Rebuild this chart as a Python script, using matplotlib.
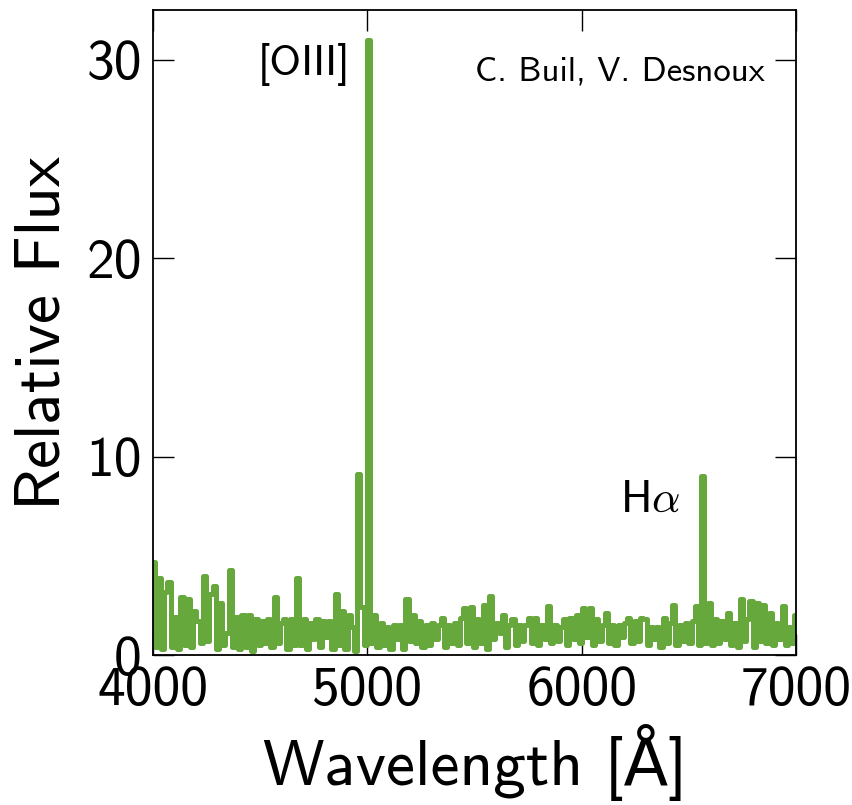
import numpy as np
import matplotlib.pyplot as plt

# -------------------------------
# Spectrum (15 A sampling)
# -------------------------------
wave_start = 4000
wave_step = 15
flux = [
    4.7, 0.4, 3.9, 0.3, 3.2, 3.7, 0.4, 1.9, 0.3, 2.9,
    0.5, 2.8, 0.4, 2.2, 1.7, 0.6, 4.0, 0.7, 3.1, 3.5,
    0.3, 2.6, 0.5, 1.1, 4.3, 0.4, 1.9, 0.3, 2.0, 0.4,
    2.0, 0.2, 1.8, 0.5, 1.7, 0.6, 1.8, 0.4, 2.9, 0.6,
    1.6, 1.8, 0.3, 1.8, 0.5, 3.9, 0.5, 1.8, 0.3, 1.6,
    0.8, 1.8, 0.4, 1.7, 0.9, 1.7, 0.3, 3.1, 0.5, 2.2,
    0.3, 2.0, 1.4, 0.2, 9.1, 2.4, 0.5, 31.0, 0.6, 2.0,
    0.4, 1.6, 0.5, 1.4, 0.3, 1.5, 0.8, 1.5, 0.3, 2.8,
    0.7, 2.0, 0.6, 1.7, 0.4, 1.5, 0.5, 1.6, 0.8, 1.5,
    1.85, 0.4, 1.5, 0.6, 1.6, 0.5, 1.85, 2.35, 0.6, 2.4,
    0.4, 1.8, 0.6, 2.5, 0.3, 2.95, 0.8, 1.6, 1.1, 2.0,
    0.4, 1.5, 1.8, 0.5, 1.5, 0.7, 1.5, 1.85, 0.6, 1.85,
    0.5, 1.5, 0.8, 2.45, 0.6, 1.5, 0.7, 1.4, 1.8, 0.5,
    1.85, 0.8, 2.0, 0.6, 2.35, 0.9, 2.35, 0.5, 1.8, 0.7,
    1.5, 2.1, 0.6, 1.5, 0.5, 1.5, 0.9, 1.6, 1.85, 0.6,
    1.7, 0.7, 1.85, 1.8, 0.5, 1.4, 0.8, 1.4, 0.4, 1.85,
    0.6, 1.6, 2.5, 0.5, 1.5, 0.7, 1.6, 0.6, 1.7, 2.45,
    0.5, 9.0, 0.6, 2.6, 0.5, 1.8, 0.6, 1.7, 0.8, 2.1,
    0.5, 1.6, 0.4, 2.8, 0.7, 1.8, 2.7, 0.4, 2.6, 0.7,
    2.5, 0.6, 2.1, 0.5, 1.6, 0.8, 2.45, 0.5, 1.4, 0.6,
    2.0,
]
wave = wave_start + wave_step * np.arange(len(flux))

x_ticks = [4000, 5000, 6000, 7000]
y_ticks = [0, 10, 20, 30]

# -------------------------------
# Style
# -------------------------------
plt.rcParams['font.family'] = ['cmss10', 'DejaVu Sans']
plt.rcParams['mathtext.fontset'] = 'cm'
plt.rcParams['axes.unicode_minus'] = False

fig = plt.figure(figsize=(8.53, 8.05), dpi=100)
ax = fig.add_axes([0.1794, 0.1863, 0.7538, 0.8013])

ax.plot(wave, flux, color='#66a83c', lw=3.6, drawstyle='steps-mid')

ax.set_xlim(4000, 7000)
ax.set_ylim(0, 32.5)
ax.set_xticks(x_ticks)
ax.set_yticks(y_ticks)
ax.tick_params(direction='in', length=15, width=1.0, top=True, right=True,
               labelsize=40, pad=8)
for s in ax.spines.values():
    s.set_linewidth(1.3)

ax.set_xlabel('Wavelength [Å]', fontsize=47, labelpad=6)
ax.set_ylabel('Relative Flux', fontsize=47, labelpad=10)

ax.text(4919, 29.75, '[OIII]', fontsize=31, ha='right', va='center')
ax.text(6459, 7.8, r'H$\alpha$', fontsize=32, ha='right', va='center')
ax.text(0.952, 0.904, 'C. Buil, V. Desnoux', fontsize=25, ha='right',
        va='center', transform=ax.transAxes)

plt.savefig('out.png', dpi=100)
